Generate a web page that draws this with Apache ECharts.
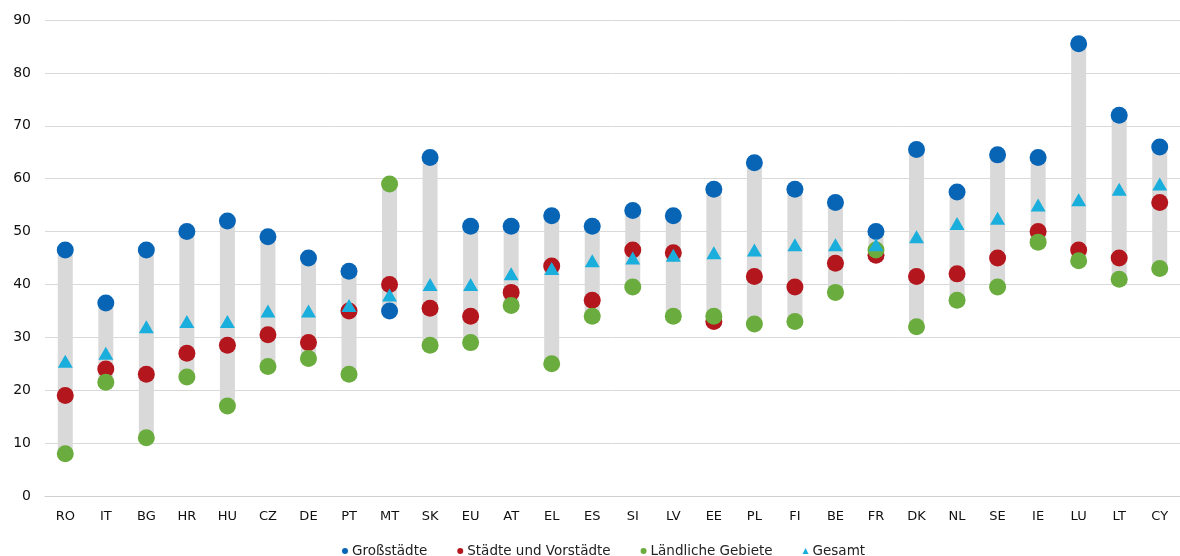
<!DOCTYPE html>
<html>
<head>
<meta charset="utf-8">
<script src="https://cdn.jsdelivr.net/npm/echarts@6/dist/echarts.min.js"></script>
<style>html,body{margin:0;padding:0;background:#fff}#c{width:1180px;height:556px}</style>
</head>
<body>
<div id="c"></div>
<script>
const categories = ['RO','IT','BG','HR','HU','CZ','DE','PT','MT','SK','EU','AT','EL','ES','SI','LV','EE','PL','FI','BE','FR','DK','NL','SE','IE','LU','LT','CY'];
const grossstaedte = [46.5,36.5,46.5,50,52,49,45,42.5,35,64,51,51,53,51,54,53,58,63,58,55.5,50,65.5,57.5,64.5,64,85.5,72,66];
const staedte = [19,24,23,27,28.5,30.5,29,35,40,35.5,34,38.5,43.5,37,46.5,46,33,41.5,39.5,44,45.5,41.5,42,45,50,46.5,45,55.5];
const laendlich = [8,21.5,11,22.5,17,24.5,26,23,59,28.5,29,36,25,34,39.5,34,34,32.5,33,38.5,46.5,32,37,39.5,48,44.5,41,43];
const gesamt = [25.5,27,32,33,33,35,35,36,38,40,40,42,43,44.5,45,45.5,46,46.5,47.5,47.5,47.5,49,51.5,52.5,55,56,58,59];
const yTicks = [0,10,20,30,40,50,60,70,80,90];

const rangeMin = categories.map((c,i)=>Math.min(grossstaedte[i],staedte[i],laendlich[i]));
const rangeLen = categories.map((c,i)=>Math.max(grossstaedte[i],staedte[i],laendlich[i]) - rangeMin[i]);

const font = 'DejaVu Sans';
const chart = echarts.init(document.getElementById('c'));
chart.setOption({
  animation:false,
  backgroundColor:'#fff',
  textStyle:{fontFamily:font},
  grid:{left:45,right:0,top:20,bottom:60,containLabel:false},
  legend:{
    top:539,left:337,
    data:[
      {name:'Großstädte',icon:'circle'},
      {name:'Städte und Vorstädte',icon:'circle'},
      {name:'Ländliche Gebiete',icon:'circle'},
      {name:'Gesamt',icon:'triangle'}
    ],
    itemWidth:6,itemHeight:6,itemGap:30,
    textStyle:{fontFamily:font,fontSize:13.5,color:'#222',padding:[0,0,0,-1]}
  },
  xAxis:{
    type:'category',data:categories,
    axisLine:{lineStyle:{color:'#d0d0d0'}},
    axisTick:{show:false},
    axisLabel:{fontFamily:font,fontSize:13,color:'#111',margin:14,interval:0}
  },
  yAxis:{
    type:'value',min:yTicks[0],max:yTicks[yTicks.length-1],interval:10,
    axisLine:{show:false},axisTick:{show:false},
    splitLine:{lineStyle:{color:'#d9d9d9'}},
    axisLabel:{fontFamily:font,fontSize:14,color:'#111',margin:14}
  },
  series:[
    {type:'bar',stack:'r',data:rangeMin,barWidth:15,itemStyle:{color:'transparent'},silent:true,z:1},
    {type:'bar',stack:'r',data:rangeLen,barWidth:15,itemStyle:{color:'#d9d9d9'},silent:true,z:1},
    {name:'Großstädte',type:'scatter',data:grossstaedte,symbol:'circle',symbolSize:17,itemStyle:{color:'#0865b6',opacity:1},z:3},
    {name:'Städte und Vorstädte',type:'scatter',data:staedte,symbol:'circle',symbolSize:17,itemStyle:{color:'#b4161e',opacity:1},z:4},
    {name:'Ländliche Gebiete',type:'scatter',data:laendlich,symbol:'circle',symbolSize:17,itemStyle:{color:'#6aac3e',opacity:1},z:5},
    {name:'Gesamt',type:'scatter',data:gesamt,symbol:'triangle',symbolSize:[15,13],itemStyle:{color:'#1aaedc',opacity:1},z:6}
  ]
});
</script>
</body>
</html>
